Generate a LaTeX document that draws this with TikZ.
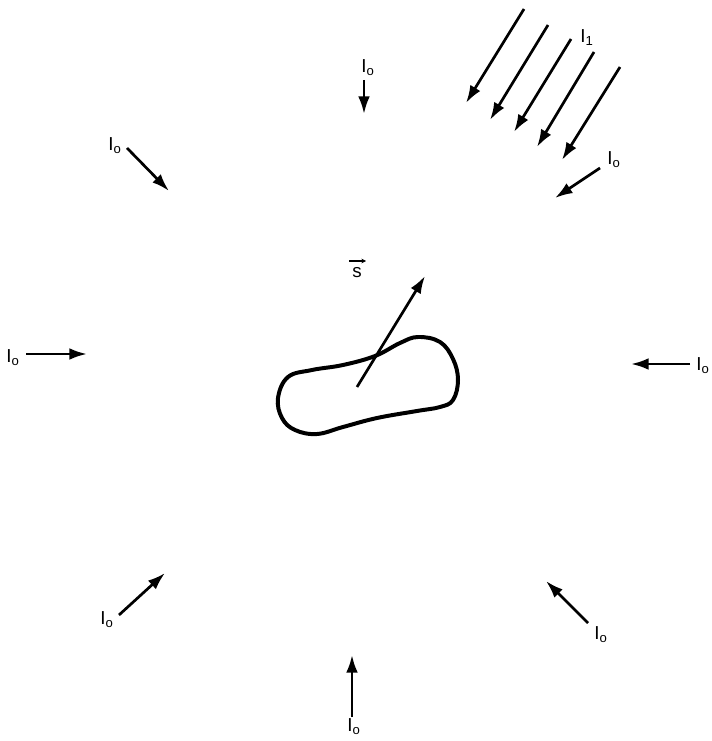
\documentclass[tikz,border=0pt]{standalone}
\usepackage{fontspec}
\setmainfont{Liberation Sans}
\usetikzlibrary{arrows.meta}
\begin{document}
\begin{tikzpicture}[x=0.03cm,y=-0.03cm,
  ray/.style={line width=2.3pt,-{Latex[length=15pt,width=10pt]}},
  lbl/.style={font=\fontsize{16}{18}\selectfont,inner sep=0pt},
  vecbar/.style={line width=1pt,-{Stealth[length=4pt,width=4pt]}},
  blob/.style={line width=3.4pt}]
\useasboundingbox (0,0) rectangle (711,741);
% labels
\node[lbl] (ltop) at (368,68) {I\textsubscript{o}};
\node[lbl] (ltl) at (115,146) {I\textsubscript{o}};
\node[lbl] (ltr) at (614,160) {I\textsubscript{o}};
\node[lbl] (lone) at (587,38) {I\textsubscript{1}};
\node[lbl] (lleft) at (13,358) {I\textsubscript{o}};
\node[lbl] (lright) at (703,366) {I\textsubscript{o}};
\node[lbl] (lbl1) at (107,620) {I\textsubscript{o}};
\node[lbl] (lbr) at (601,635) {I\textsubscript{o}};
\node[lbl] (lbot) at (354,727) {I\textsubscript{o}};
% arrow endpoints
\coordinate (a1s) at (364,80);  \coordinate (a1e) at (364,114);
\coordinate (a2s) at (127,148); \coordinate (a2e) at (169,191);
\coordinate (a3s) at (600,168); \coordinate (a3e) at (555,198);
\coordinate (a4s) at (26,354);  \coordinate (a4e) at (87,354);
\coordinate (a5s) at (690,364); \coordinate (a5e) at (631,364);
\coordinate (a6s) at (119,615); \coordinate (a6e) at (165,573);
\coordinate (a7s) at (588,623); \coordinate (a7e) at (546,581);
\coordinate (a8s) at (352,717); \coordinate (a8e) at (352,655);
\coordinate (b1s) at (524,9);  \coordinate (b1e) at (466,103);
\coordinate (b2s) at (548,25); \coordinate (b2e) at (490,120);
\coordinate (b3s) at (571,39); \coordinate (b3e) at (514,132);
\coordinate (b4s) at (594,52); \coordinate (b4e) at (537,147);
\coordinate (b5s) at (620,67); \coordinate (b5e) at (562,160);
\foreach \i in {1,...,8} {\draw[ray] (a\i s) -- (a\i e);}
\foreach \i in {1,...,5} {\draw[ray] (b\i s) -- (b\i e);}
% body
\draw[blob] plot[smooth cycle, tension=0.65] coordinates {
 (288,377) (312,370) (343,365) (375,356) (400,343) (418,337) (440,342)
 (453,359) (458,380) (453,400) (440,407) (417,411) (377,418) (343,427)
 (317,434) (295,430) (282,418) (278,398)};
\coordinate (ss) at (357,387); \coordinate (se) at (425,276);
\draw[ray] (ss) -- (se);
\node[lbl] (slbl) at (357,273) {s};
\coordinate (vbs) at (349,261); \coordinate (vbe) at (366,261);
\draw[vecbar] (vbs) -- (vbe);
\end{tikzpicture}
\end{document}
